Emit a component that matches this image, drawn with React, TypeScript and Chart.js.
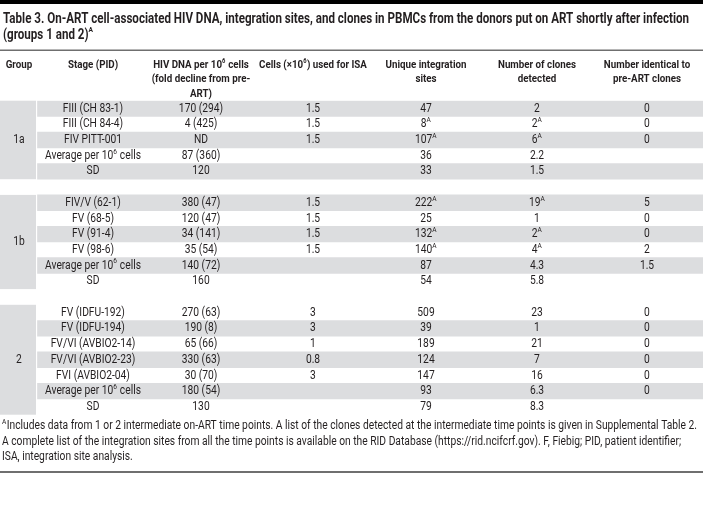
import React, { useEffect, useRef } from 'react';
import { Chart, registerables } from 'chart.js';
Chart.register(...registerables);

// ---------- DATA ----------
const titleLines = [
  'Table 3. On-ART cell-associated HIV DNA, integration sites, and clones in PBMCs from the donors put on ART shortly after infection',
  '(groups 1 and 2)^A',
];

const headerLines = [
  ['Group'],
  ['Stage (PID)'],
  ['HIV DNA per 10^6 cells', '(fold decline from pre-', 'ART)'],
  ['Cells (×10^6) used for ISA'],
  ['Unique integration', 'sites'],
  ['Number of clones', 'detected'],
  ['Number identical to', 'pre-ART clones'],
];

const rowGroup = ['1a', '1a', '1a', '1a', '1a', '', '1b', '1b', '1b', '1b', '1b', '1b', '', '2', '2', '2', '2', '2', '2', '2'];

const stage = [
  'FIII (CH 83-1)', 'FIII (CH 84-4)', 'FIV PITT-001', 'Average per 10^6 cells', 'SD', '',
  'FIV/V (62-1)', 'FV (68-5)', 'FV (91-4)', 'FV (98-6)', 'Average per 10^6 cells', 'SD', '',
  'FV (IDFU-192)', 'FV (IDFU-194)', 'FV/VI (AVBIO2-14)', 'FV/VI (AVBIO2-23)', 'FVI (AVBIO2-04)', 'Average per 10^6 cells', 'SD',
];

const hivDna = [
  '170 (294)', '4 (425)', 'ND', '87 (360)', '120', '',
  '380 (47)', '120 (47)', '34 (141)', '35 (54)', '140 (72)', '160', '',
  '270 (63)', '190 (8)', '65 (66)', '330 (63)', '30 (70)', '180 (54)', '130',
];

const cellsUsed = [
  '1.5', '1.5', '1.5', '', '', '',
  '1.5', '1.5', '1.5', '1.5', '', '', '',
  '3', '3', '1', '0.8', '3', '', '',
];

const uniqueSites = [
  '47', '8^A', '107^A', '36', '33', '',
  '222^A', '25', '132^A', '140^A', '87', '54', '',
  '509', '39', '189', '124', '147', '93', '79',
];

const clonesDetected = [
  '2', '2^A', '6^A', '2.2', '1.5', '',
  '19^A', '1', '2^A', '4^A', '4.3', '5.8', '',
  '23', '1', '21', '7', '16', '6.3', '8.3',
];

const identicalPreArt = [
  '0', '0', '0', '', '', '',
  '5', '0', '0', '2', '1.5', '', '',
  '0', '0', '0', '0', '0', '0', '',
];

const footnoteLines = [
  '^AIncludes data from 1 or 2 intermediate on-ART time points. A list of the clones detected at the intermediate time points is given in Supplemental Table 2.',
  'A complete list of the integration sites from all the time points is available on the RID Database (https://rid.ncifcrf.gov). F, Fiebig; PID, patient identifier;',
  'ISA, integration site analysis.',
];

// ---------- LAYOUT / STYLE ----------
const W = 703;
const H = 523;
const COL_X = [19, 93, 201, 313, 426, 537, 647];
const GROUP_W = 36;
const STRIPE_START = 37.5;
const TABLE_TOP = 100.7;
const TABLE_BOTTOM = 414.7;
const GRAY = '#dcdddf';
const TEXT = '#231f20';
const FAMILY = 'Roboto, "Noto Sans", sans-serif';
const BODY_SIZE = 12.5;
const HEAD_SIZE = 11.8;
const TITLE_SIZE = 14;

const isSpacer = (i: number) => rowGroup[i] === '';
const shaded = stage.map((_, i) => !isSpacer(i) && i % 2 === 0);

type Seg = { t: string; sup: boolean };
function parse(s: string): Seg[] {
  const out: Seg[] = [];
  let buf = '';
  for (let i = 0; i < s.length; i++) {
    if (s[i] === '^' && i + 1 < s.length) {
      if (buf) out.push({ t: buf, sup: false });
      buf = '';
      out.push({ t: s[i + 1], sup: true });
      i++;
    } else buf += s[i];
  }
  if (buf) out.push({ t: buf, sup: false });
  return out;
}

function drawRich(
  ctx: CanvasRenderingContext2D,
  s: string,
  x: number,
  y: number,
  align: 'left' | 'center',
  weight: string,
  size: number,
  sx: number
) {
  const segs = parse(s);
  const mainFont = `${weight} ${size}px ${FAMILY}`;
  const supFont = `${weight} ${Math.round(size * 0.6)}px ${FAMILY}`;
  let total = 0;
  const widths = segs.map((sg) => {
    ctx.font = sg.sup ? supFont : mainFont;
    const w = ctx.measureText(sg.t).width + (sg.sup ? 0.5 : 0);
    total += w;
    return w;
  });
  const start = align === 'center' ? x - (total * sx) / 2 : x;
  ctx.save();
  ctx.translate(start, y);
  ctx.scale(sx, 1);
  ctx.textAlign = 'left';
  ctx.textBaseline = 'middle';
  ctx.fillStyle = TEXT;
  let cx = 0;
  segs.forEach((sg, k) => {
    ctx.font = sg.sup ? supFont : mainFont;
    ctx.fillText(sg.t, cx, sg.sup ? -size * 0.33 : 0);
    cx += widths[k];
  });
  ctx.restore();
}

function plainText(s: string) {
  return s.replace(/\^(.)/g, '$1');
}

const tablePlugin = {
  id: 'tablePlugin',
  beforeDatasetsDraw(chart: any) {
    const ctx: CanvasRenderingContext2D = chart.ctx;
    const yS = chart.scales.y;
    const pitch = (chart.chartArea.bottom - chart.chartArea.top) / stage.length;
    const groups = Array.from(new Set(rowGroup.filter((g) => g)));
    ctx.save();
    ctx.fillStyle = GRAY;
    groups.forEach((g) => {
      const first = rowGroup.indexOf(g);
      const last = rowGroup.lastIndexOf(g);
      const top = yS.getPixelForValue(first) - pitch / 2;
      const bot = yS.getPixelForValue(last) + pitch / 2;
      ctx.fillRect(0, top, GROUP_W, bot - top);
    });
    ctx.restore();
  },
  afterDraw(chart: any) {
    const ctx: CanvasRenderingContext2D = chart.ctx;
    const yS = chart.scales.y;

    // horizontal condensing factors (the original uses a condensed face)
    ctx.font = `normal ${BODY_SIZE}px ${FAMILY}`;
    const bodySx = 697 / ctx.measureText(plainText(footnoteLines[0])).width;
    ctx.font = `bold ${TITLE_SIZE}px ${FAMILY}`;
    const titleSx = 686 / ctx.measureText(titleLines[0]).width;

    // rules
    ctx.save();
    ctx.fillStyle = '#000';
    ctx.fillRect(0, 0, W, 4);
    ctx.fillStyle = '#6f6f6f';
    ctx.fillRect(0, 49.5, W, 1.5);
    ctx.fillRect(0, 471, W, 2);
    ctx.restore();

    // title
    drawRich(ctx, titleLines[0], 3, 19, 'left', 'bold', TITLE_SIZE, titleSx);
    drawRich(ctx, titleLines[1], 3, 35, 'left', 'bold', TITLE_SIZE, titleSx);

    // header
    const hy = [65, 79.5, 94];
    headerLines.forEach((lines, c) => {
      lines.forEach((ln, k) => drawRich(ctx, ln, COL_X[c], hy[k], 'center', 'bold', HEAD_SIZE, titleSx));
    });

    // body
    const cols = [stage, hivDna, cellsUsed, uniqueSites, clonesDetected, identicalPreArt];
    stage.forEach((_, i) => {
      const y = yS.getPixelForValue(i);
      cols.forEach((col, c) => {
        if (col[i]) drawRich(ctx, col[i], COL_X[c + 1], y, 'center', 'normal', BODY_SIZE, bodySx);
      });
    });
    // group labels
    Array.from(new Set(rowGroup.filter((g) => g))).forEach((g) => {
      const first = rowGroup.indexOf(g);
      const last = rowGroup.lastIndexOf(g);
      const y = (yS.getPixelForValue(first) + yS.getPixelForValue(last)) / 2;
      drawRich(ctx, g, COL_X[0], y, 'center', 'normal', BODY_SIZE, bodySx);
    });

    // footnotes
    const fy = [426, 441.5, 457];
    footnoteLines.forEach((ln, k) => drawRich(ctx, ln, 2, fy[k], 'left', 'normal', BODY_SIZE, bodySx));
  },
};

export default function App() {
  const ref = useRef<HTMLCanvasElement>(null);
  useEffect(() => {
    if (!ref.current) return;
    const chart = new Chart(ref.current, {
      type: 'bar',
      data: {
        labels: stage.map((s, i) => `${i}`),
        datasets: [
          {
            label: 'stripes',
            data: stage.map((_, i) => (shaded[i] ? [STRIPE_START / W, 1] : null)) as any,
            backgroundColor: GRAY,
            borderWidth: 0,
            barPercentage: 1,
            categoryPercentage: 1,
          },
        ],
      },
      options: {
        indexAxis: 'y',
        animation: false,
        responsive: false,
        devicePixelRatio: 1,
        layout: { padding: { top: TABLE_TOP, bottom: H - TABLE_BOTTOM, left: 0, right: 0 } },
        scales: {
          x: { type: 'linear', min: 0, max: 1, display: false },
          y: { type: 'category', display: false, offset: true },
        },
        plugins: { legend: { display: false }, tooltip: { enabled: false } },
      },
      plugins: [tablePlugin],
    });
    return () => chart.destroy();
  }, []);
  return (
    <div style={{ position: 'absolute', left: 0, top: 0, width: W, height: H, background: '#fff' }}>
      <canvas ref={ref} width={W} height={H} style={{ display: 'block', width: W, height: H }} />
    </div>
  );
}
